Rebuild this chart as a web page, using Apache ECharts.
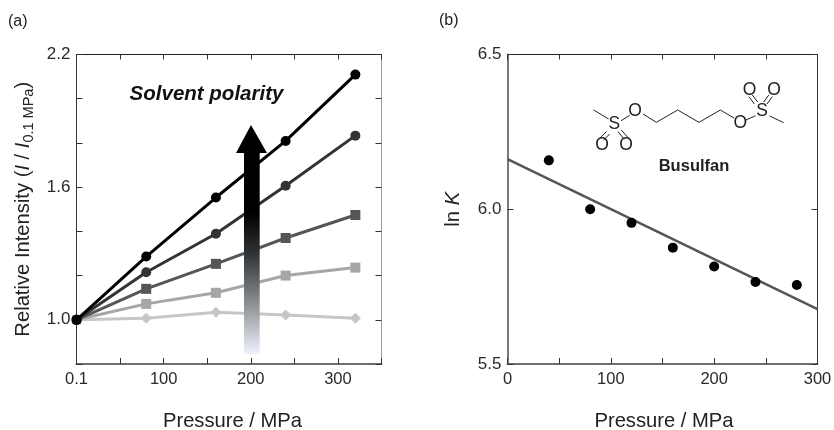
<!DOCTYPE html>
<html><head><meta charset="utf-8">
<style>html,body{margin:0;padding:0;background:#fff}#c{width:834px;height:430px}</style>
<script src="https://cdn.jsdelivr.net/npm/echarts@6/dist/echarts.min.js"></script>
</head><body><div id="c"></div>
<script>
const pressureA = [0.1, 80, 160, 240, 320];
const seriesA1 = [1.0, 1.286, 1.553, 1.809, 2.109];
const seriesA2 = [1.0, 1.215, 1.389, 1.606, 1.833];
const seriesA3 = [1.0, 1.14, 1.253, 1.37, 1.474];
const seriesA4 = [1.0, 1.072, 1.122, 1.2, 1.236];
const seriesA5 = [1.0, 1.007, 1.034, 1.022, 1.007];
const xTickLabelsA = { 0: '0.1', 100: '100', 200: '200', 300: '300' };
const yTickLabelsA = ['1.0', '1.6', '2.2'];
const pressureB = [40, 80, 120, 160, 200, 240, 280];
const lnK = [6.158, 6.0, 5.956, 5.876, 5.815, 5.765, 5.755];
const fitX = [0, 300];
const fitY = [6.162, 5.677];
const xTickLabelsB = ['0', '100', '200', '300'];
const yTickLabelsB = ['5.5', '6.0', '6.5'];

const FONT = '"Liberation Sans", Arial, sans-serif';
const TXT = '#2a2a2a';
const zip = (a, b) => a.map((v, i) => [v, b[i]]);

function xAxes(grid, max, fmt, namePad) {
  const base = { type: 'value', gridIndex: grid, min: 0, max, interval: 50, splitLine: { show: false } };
  return [
    Object.assign({}, base, {
      position: 'bottom', name: 'Pressure / MPa', nameLocation: 'middle', nameGap: 47,
      nameTextStyle: { fontFamily: FONT, fontSize: 20.2, color: '#222', padding: namePad },
      axisLine: { onZero: false, lineStyle: { color: '#6e6e6e', width: 2 } },
      axisTick: { inside: true, length: 6, lineStyle: { color: '#333', width: 1 } },
      axisLabel: { formatter: fmt, margin: 7, fontFamily: FONT, fontSize: 16.5, color: TXT, showMinLabel: true, showMaxLabel: true, hideOverlap: false }
    }),
    Object.assign({}, base, {
      position: 'top',
      axisLine: { onZero: false, lineStyle: { color: '#222', width: 1 } },
      axisTick: { inside: true, length: 5, lineStyle: { color: '#333', width: 1 } },
      axisLabel: { show: false }
    })
  ];
}
function yAxes(grid, min, max, interval, fmt, name, gap, leftColor, leftWidth, rightColor) {
  const base = { type: 'value', gridIndex: grid, min, max, interval, splitLine: { show: false } };
  return [
    Object.assign({}, base, {
      position: 'left', name, nameLocation: 'middle', nameGap: gap,
      nameTextStyle: {
        fontFamily: FONT, fontSize: 20.2, color: '#222',
        rich: {
          t: { fontFamily: FONT, fontSize: 20.2, color: '#222', lineHeight: 26 },
          i: { fontFamily: FONT, fontSize: 20.2, fontStyle: 'italic', color: '#222', lineHeight: 26 },
          s: { fontFamily: FONT, fontSize: 14.5, color: '#222', lineHeight: 18, verticalAlign: 'bottom' }
        }
      },
      axisLine: { onZero: false, lineStyle: { color: leftColor, width: leftWidth } },
      axisTick: { inside: true, length: 6, lineStyle: { color: '#333', width: 1 } },
      axisLabel: { formatter: fmt, margin: 6, fontFamily: FONT, fontSize: 17, color: TXT, showMinLabel: true, showMaxLabel: true, hideOverlap: false }
    }),
    Object.assign({}, base, {
      position: 'right',
      axisLine: { onZero: false, lineStyle: { color: rightColor, width: 1 } },
      axisTick: { inside: true, length: 6, lineStyle: { color: '#333', width: 1 } },
      axisLabel: { show: false }
    })
  ];
}
function lineSeries(data, color, symbol, size, firstSize, z) {
  return {
    type: 'line', xAxisIndex: 0, yAxisIndex: 0, data: zip(pressureA, data), z,
    symbol, symbolSize: (v, p) => (p.dataIndex === 0 ? firstSize : size), clip: false, animation: false,
    lineStyle: { color, width: 3 }, itemStyle: { color }
  };
}

/* Busulfan structural formula, an annotation drawn as graphic lines + text */
const MOL_X = 417, K = 1 / 3;
const mx = v => MOL_X + v * K, my = v => v * K;
const bondCol = '#222';
function bond(a, b, c, d) {
  return { type: 'line', z: 50, shape: { x1: mx(a), y1: my(b), x2: mx(c), y2: my(d) }, style: { stroke: bondCol, lineWidth: 1 } };
}
function atom(label, a, b) {
  return { type: 'text', z: 51, style: { text: label, x: mx(a), y: my(b), align: 'center', verticalAlign: 'middle', fontFamily: FONT, fontSize: 17.5, fill: '#222' } };
}
const molecule = [
  bond(530, 330, 575, 357), bond(612, 362, 638, 346),
  bond(678, 342, 718, 367), bond(718, 367, 782, 330), bond(782, 330, 846, 367), bond(846, 367, 910, 330), bond(910, 330, 951, 354),
  bond(987, 360, 1016, 347), bond(1058, 348, 1100, 368),
  bond(568, 395, 549, 414), bond(578, 402, 559, 421),
  bond(603, 395, 622, 418), bond(613, 390, 633, 413),
  bond(1012, 312, 996, 290), bond(1022, 306, 1006, 285),
  bond(1040, 306, 1056, 284), bond(1050, 312, 1066, 290),
  atom('S', 592, 373), atom('O', 654, 335), atom('O', 555, 435), atom('O', 627, 435),
  atom('O', 970, 371), atom('S', 1035, 335), atom('O', 998, 271), atom('O', 1071, 271)
];

const chart = echarts.init(document.getElementById('c'), null, { renderer: 'canvas' });
chart.setOption({
  animation: false,
  backgroundColor: '#fff',
  grid: [
    { left: 76.5, top: 54.5, width: 305, height: 309.5, containLabel: false, outerBoundsMode: 'none' },
    { left: 507.5, top: 54.5, width: 310, height: 309.5, containLabel: false, outerBoundsMode: 'none' }
  ],
  xAxis: [
    ...xAxes(0, 350, v => xTickLabelsA[v] || '', [0, 0, 0, 7]),
    ...xAxes(1, 300, v => xTickLabelsB.includes(String(v)) ? String(v) : '', [0, 0, 0, 3])
  ],
  yAxis: [
    ...yAxes(0, 0.8, 2.2, 0.2, v => yTickLabelsA.includes(v.toFixed(1)) ? v.toFixed(1) : '',
      '{t|Relative Intensity (}{i|I}{t| / }{i|I}{s|0.1 MPa}{t|)}', 40, '#333', 1, '#999'),
    ...yAxes(1, 5.5, 6.5, 0.5, v => yTickLabelsB.includes(v.toFixed(1)) ? v.toFixed(1) : '',
      '{t|ln }{i|K}', 41, '#777', 2, '#333')
  ],
  series: [
    lineSeries(seriesA5, '#c6c6c6', 'diamond', 11, 8, 2),
    lineSeries(seriesA4, '#a6a6a6', 'rect', 10, 9, 3),
    lineSeries(seriesA3, '#565656', 'rect', 10, 7, 4),
    lineSeries(seriesA2, '#333333', 'circle', 10, 9, 5),
    lineSeries(seriesA1, '#000000', 'circle', 10, 10.5, 6),
    {
      type: 'line', xAxisIndex: 2, yAxisIndex: 2, data: zip(fitX, fitY), z: 2,
      symbol: 'none', clip: false, lineStyle: { color: '#555', width: 2.5 }
    },
    {
      type: 'scatter', xAxisIndex: 2, yAxisIndex: 2, data: zip(pressureB, lnK), z: 3,
      symbol: 'circle', symbolSize: 10, itemStyle: { color: '#000', opacity: 1 }
    }
  ],
  graphic: [
    { type: 'text', z: 60, style: { text: '(a)', x: 8, y: 22, verticalAlign: 'middle', fontFamily: FONT, fontSize: 16, fill: '#222' } },
    { type: 'text', z: 60, style: { text: '(b)', x: 439, y: 21, verticalAlign: 'middle', fontFamily: FONT, fontSize: 16, fill: '#222' } },
    { type: 'text', z: 60, style: { text: 'Solvent polarity', x: 206.5, y: 94, align: 'center', verticalAlign: 'middle', fontFamily: FONT, fontSize: 20.5, fontWeight: 'bold', fontStyle: 'italic', fill: '#111' } },
    { type: 'text', z: 60, style: { text: 'Busulfan', x: 694, y: 166, align: 'center', verticalAlign: 'middle', fontFamily: FONT, fontSize: 16.5, fontWeight: 'bold', fill: '#222' } },
    {
      type: 'polygon', z: 40,
      shape: { points: [[251, 125], [267, 153], [259.7, 153], [259.7, 354], [244, 354], [244, 153], [236, 153]] },
      style: {
        fill: { type: 'linear', x: 0, y: 0, x2: 0, y2: 1, colorStops: [
          { offset: 0, color: '#000' }, { offset: 0.38, color: '#000' }, { offset: 0.55, color: '#2c2f31' },
          { offset: 0.75, color: '#7f8285' }, { offset: 1, color: '#eef2fc' }
        ] }
      }
    },
    ...molecule
  ]
});
</script></body></html>
